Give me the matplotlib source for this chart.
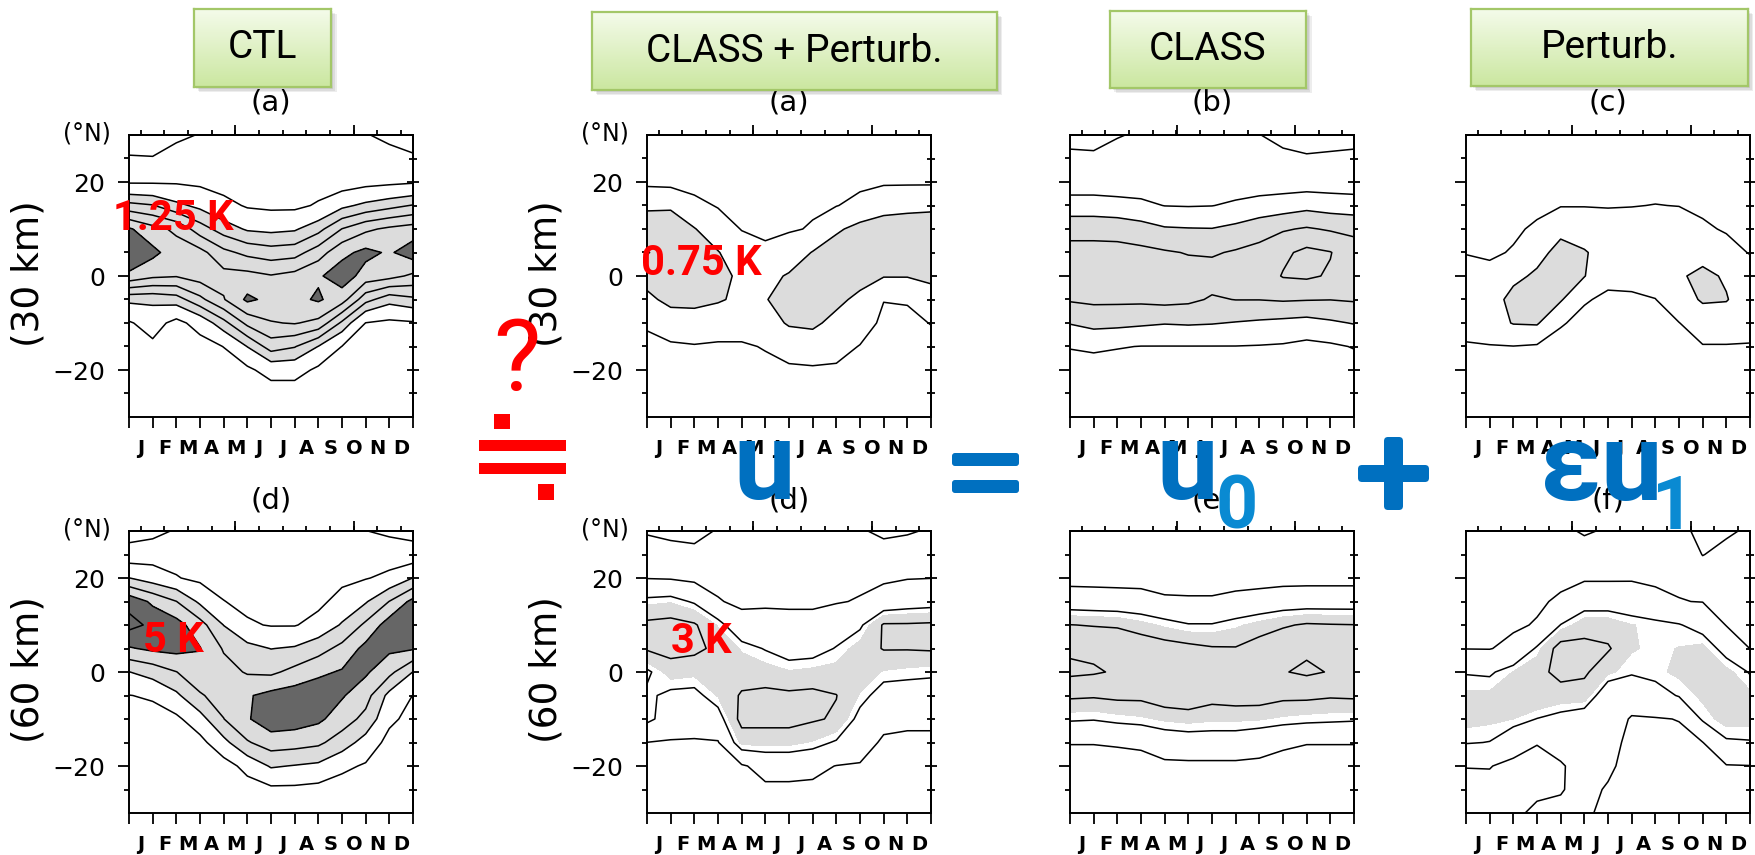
import numpy as np
import matplotlib
matplotlib.use("Agg")
import matplotlib.pyplot as plt
from matplotlib.patches import Rectangle, FancyBboxPatch
from matplotlib.colors import LinearSegmentedColormap

W, H = 1756, 855

# ---------------- data ----------------
months = ['J', 'F', 'M', 'A', 'M', 'J', 'J', 'A', 'S', 'O', 'N', 'D']
month_grid = np.arange(13)                      # month boundaries (Jan 1 ... Dec 31)
lats = np.array([30, 25, 20, 15, 10, 5, 0, -5, -10, -15, -20, -25, -30])

# each inner list: one month-boundary profile, lat 30N -> 30S
ctl_30km = [
    [0.4, 1.1, 1.9, 4.0, 6.1, 6.8, 5.8, 3.2, 1.9, 1.5, 1.4, 1.3, 1.2],
    [0.5, 1.05, 1.9, 3.8, 5.5, 6.2, 5.4, 3.2, 2.4, 1.8, 1.5, 1.4, 1.3],
    [0.8, 1.4, 1.9, 3.2, 5.1, 5.6, 5.3, 3.4, 1.7, 1.4, 1.3, 1.2, 1.2],
    [1.05, 1.6, 1.8, 2.8, 4.1, 5.5, 5.6, 4.3, 2.4, 1.6, 1.4, 1.3, 1.2],
    [1.2, 1.5, 1.6, 2.3, 3.4, 4.7, 5.5, 5.2, 3.5, 2.02, 1.5, 1.3, 1.2],
    [1.2, 1.4, 1.5, 1.9, 2.9, 4.3, 5.5, 6.15, 4.7, 3.02, 1.8, 1.4, 1.3],
    [1.2, 1.4, 1.5, 1.8, 2.8, 4.1, 5.3, 5.8, 5.2, 4.1, 2.4, 1.5, 1.3],
    [1.2, 1.4, 1.5, 1.8, 2.9, 4.2, 5.5, 5.8, 5.3, 3.8, 2.4, 1.5, 1.3],
    [1.1, 1.4, 1.6, 2.1, 3.5, 4.9, 5.9, 6.1, 5.05, 2.98, 1.8, 1.4, 1.2],
    [1.02, 1.3, 1.5, 2.8, 4.52, 5.8, 6.4, 5.6, 3.6, 1.98, 1.5, 1.3, 1.2],
    [1.05, 1.5, 1.7, 3.2, 5.1, 6.2, 5.7, 4.02, 1.98, 1.6, 1.4, 1.3, 1.2],
    [0.8, 1.3, 1.8, 3.5, 5.4, 5.9, 5.5, 3.3, 1.8, 1.5, 1.4, 1.3, 1.2],
    [0.5, 1.15, 1.9, 3.8, 5.6, 6.4, 5.1, 3.6, 1.9, 1.6, 1.4, 1.3, 1.2],
]
ctl_60km = [
    [0.6, 1.4, 3.02, 5.7, 6.3, 4.9, 2.98, 1.98, 1.7, 1.5, 1.4, 1.3, 1.3],
    [0.7, 1.6, 2.5, 4.8, 5.8, 5.2, 3.4, 2.1, 1.7, 1.5, 1.4, 1.3, 1.3],
    [1.1, 1.7, 2.05, 4.02, 5.4, 5.3, 3.98, 2.8, 1.8, 1.5, 1.4, 1.3, 1.3],
    [1.2, 1.6, 1.8, 2.8, 4.4, 5.05, 4.6, 3.9, 2.6, 1.7, 1.5, 1.4, 1.3],
    [1.3, 1.5, 1.7, 2.02, 2.98, 3.9, 4.4, 4.4, 3.98, 2.7, 1.6, 1.4, 1.3],
    [1.3, 1.4, 1.6, 1.8, 2.1, 3.3, 3.9, 4.9, 4.9, 3.9, 2.3, 1.6, 1.4],
    [1.3, 1.4, 1.5, 1.7, 1.95, 2.98, 3.8, 5.3, 5.6, 4.5, 3.1, 1.8, 1.5],
    [1.3, 1.4, 1.5, 1.7, 1.95, 3.1, 4.3, 5.5, 5.5, 4.4, 2.95, 1.8, 1.5],
    [1.3, 1.5, 1.7, 1.8, 2.3, 3.6, 4.8, 5.6, 5.2, 4.2, 2.8, 1.7, 1.5],
    [1.2, 1.6, 1.8, 2.3, 3.1, 4.3, 5.1, 5.1, 4.5, 3.5, 2.2, 1.6, 1.4],
    [1.02, 1.8, 1.95, 2.9, 4.2, 5.3, 5.15, 4.4, 3.7, 2.6, 1.9, 1.5, 1.4],
    [0.8, 1.6, 2.2, 4.02, 5.5, 5.2, 4.3, 2.7, 2.2, 1.7, 1.5, 1.4, 1.3],
    [0.7, 1.4, 3.02, 5.3, 5.6, 5.1, 2.98, 1.98, 1.7, 1.5, 1.4, 1.3, 1.3],
]
class_pert_30km = [
    [0.7, 0.75, 0.8, 1.85, 2.5, 3.05, 2.4, 1.75, 1.1, 0.8, 0.7, 0.7, 0.7],
    [0.7, 0.72, 0.75, 1.85, 2.6, 2.6, 2.5, 2.3, 1.4, 0.9, 0.75, 0.7, 0.7],
    [0.7, 0.72, 0.75, 1.2, 2.05, 2.4, 2.4, 2.3, 1.5, 0.95, 0.75, 0.7, 0.7],
    [0.75, 0.8, 0.85, 0.95, 1.4, 2.05, 2.3, 2.1, 1.4, 0.9, 0.75, 0.7, 0.7],
    [0.75, 0.8, 0.85, 0.9, 0.97, 1.4, 1.8, 1.8, 1.4, 0.9, 0.75, 0.7, 0.7],
    [0.75, 0.8, 0.85, 0.9, 0.95, 1.05, 1.7, 1.95, 1.6, 1.05, 0.8, 0.7, 0.7],
    [0.75, 0.8, 0.85, 0.9, 0.93, 1.4, 2.1, 2.4, 2.1, 1.4, 0.85, 0.75, 0.7],
    [0.75, 0.8, 0.85, 0.92, 1.05, 2.05, 2.5, 2.5, 2.2, 1.45, 0.9, 0.75, 0.7],
    [0.75, 0.8, 0.88, 0.97, 1.85, 2.5, 2.5, 2.25, 1.7, 1.25, 0.9, 0.75, 0.7],
    [0.75, 0.78, 0.82, 1.25, 2.3, 2.6, 2.4, 1.75, 1.35, 0.97, 0.8, 0.75, 0.7],
    [0.75, 0.8, 0.88, 1.7, 2.4, 2.5, 2.05, 1.02, 0.85, 0.8, 0.75, 0.7, 0.7],
    [0.75, 0.8, 0.88, 1.8, 2.4, 2.5, 2.05, 1.05, 0.85, 0.8, 0.75, 0.7, 0.7],
    [0.75, 0.8, 0.88, 1.85, 2.4, 2.5, 2.2, 1.6, 1.02, 0.8, 0.75, 0.7, 0.7],
]
class_pert_60km = [
    [0.45, 0.75, 0.97, 2.2, 3.2, 3.1, 1.85, 2.15, 2.2, 0.99, 0.8, 0.75, 0.7],
    [0.35, 0.72, 0.93, 2.3, 3.3, 3.3, 2.6, 1.8, 1.6, 0.92, 0.8, 0.75, 0.7],
    [0.3, 0.67, 0.8, 1.9, 3.1, 3.2, 2.5, 1.75, 1.5, 0.9, 0.8, 0.75, 0.7],
    [0.55, 0.65, 0.8, 1.05, 2.3, 2.8, 2.8, 2.4, 1.6, 0.95, 0.8, 0.75, 0.7],
    [0.6, 0.7, 0.8, 0.85, 1.3, 2.3, 2.6, 3.1, 3.3, 2.5, 0.9, 0.8, 0.7],
    [0.6, 0.7, 0.75, 0.9, 1.25, 1.95, 2.6, 3.2, 3.3, 2.5, 1.3, 0.85, 0.75],
    [0.6, 0.7, 0.8, 0.9, 1.2, 1.6, 2.4, 3.15, 3.3, 2.5, 1.3, 0.85, 0.75],
    [0.6, 0.7, 0.8, 0.9, 1.2, 1.65, 2.5, 3.2, 3.1, 2.3, 1.2, 0.85, 0.75],
    [0.6, 0.7, 0.8, 0.95, 1.5, 2.05, 2.55, 3.02, 2.9, 1.9, 0.98, 0.85, 0.75],
    [0.55, 0.7, 0.85, 1.05, 1.85, 2.6, 2.7, 2.3, 1.7, 1.3, 0.95, 0.85, 0.75],
    [0.4, 0.7, 0.9, 1.3, 3.1, 3.05, 2.3, 1.6, 1.2, 0.9, 0.8, 0.75, 0.7],
    [0.45, 0.75, 0.97, 1.5, 3.1, 3.05, 2.2, 1.6, 1.1, 0.9, 0.8, 0.75, 0.7],
    [0.55, 0.75, 0.99, 1.6, 3.15, 3.1, 2.1, 1.7, 1.1, 0.9, 0.8, 0.75, 0.7],
]
class_30km = [
    [0.7, 1.2, 1.5, 2.4, 3.7, 4.3, 4.4, 4.1, 3.05, 2.05, 1.6, 1.4, 1.3],
    [0.7, 1.15, 1.5, 2.4, 3.7, 4.3, 4.4, 4.2, 3.3, 2.15, 1.6, 1.4, 1.3],
    [0.95, 1.3, 1.5, 2.3, 3.65, 4.3, 4.4, 4.2, 3.25, 2.05, 1.6, 1.4, 1.3],
    [1.1, 1.35, 1.5, 2.2, 3.4, 4.25, 4.4, 4.2, 3.15, 1.98, 1.6, 1.4, 1.3],
    [1.1, 1.35, 1.5, 1.98, 3.1, 4.1, 4.4, 4.3, 3.05, 1.98, 1.6, 1.4, 1.3],
    [1.1, 1.35, 1.5, 1.95, 3.05, 3.95, 4.4, 4.2, 3.1, 1.98, 1.6, 1.4, 1.3],
    [1.1, 1.35, 1.5, 1.98, 3.03, 3.9, 4.4, 3.9, 3.05, 1.98, 1.6, 1.4, 1.3],
    [1.1, 1.35, 1.5, 2.15, 3.25, 4.1, 4.4, 4.02, 2.95, 1.98, 1.6, 1.4, 1.3],
    [1.02, 1.3, 1.5, 2.35, 3.6, 4.3, 4.45, 4.02, 2.85, 1.95, 1.6, 1.4, 1.3],
    [0.75, 1.2, 1.5, 2.5, 3.9, 4.8, 5.06, 4.1, 2.75, 1.9, 1.6, 1.4, 1.3],
    [0.6, 1.1, 1.5, 2.7, 4.1, 5.25, 5.15, 4.05, 2.65, 1.75, 1.5, 1.4, 1.3],
    [0.65, 1.15, 1.5, 2.55, 3.9, 5.04, 4.9, 4.02, 2.85, 1.85, 1.55, 1.4, 1.3],
    [0.7, 1.2, 1.5, 2.45, 3.8, 4.4, 4.5, 4.1, 3.05, 2.05, 1.6, 1.4, 1.3],
]
class_60km = [
    [0.6, 0.7, 0.75, 1.45, 3.02, 3.85, 4.2, 3.15, 2.1, 1.02, 0.8, 0.75, 0.7],
    [0.6, 0.7, 0.75, 1.4, 2.95, 3.8, 4.1, 3.1, 2.05, 1.02, 0.8, 0.75, 0.7],
    [0.6, 0.7, 0.75, 1.35, 2.9, 3.7, 3.9, 3.2, 2.2, 1.05, 0.8, 0.75, 0.7],
    [0.6, 0.7, 0.75, 1.3, 2.6, 3.6, 3.9, 3.2, 2.3, 1.1, 0.8, 0.75, 0.7],
    [0.6, 0.7, 0.75, 1.1, 2.3, 3.4, 3.8, 3.5, 2.5, 1.4, 0.85, 0.75, 0.7],
    [0.6, 0.7, 0.75, 1.08, 2.05, 3.25, 3.8, 3.6, 2.6, 1.5, 0.85, 0.75, 0.7],
    [0.6, 0.7, 0.75, 1.08, 2.05, 3.08, 3.6, 3.3, 2.5, 1.5, 0.85, 0.75, 0.7],
    [0.6, 0.7, 0.75, 1.2, 2.3, 3.05, 3.7, 3.4, 2.5, 1.5, 0.85, 0.75, 0.7],
    [0.6, 0.7, 0.75, 1.3, 2.6, 3.4, 3.8, 3.4, 2.45, 1.3, 0.85, 0.75, 0.7],
    [0.6, 0.7, 0.75, 1.45, 2.9, 3.65, 3.95, 3.2, 2.3, 1.1, 0.8, 0.75, 0.7],
    [0.6, 0.7, 0.75, 1.5, 3.1, 3.85, 4.15, 3.2, 2.2, 1.02, 0.8, 0.75, 0.7],
    [0.6, 0.7, 0.75, 1.5, 3.05, 3.8, 3.95, 3.1, 2.15, 1.02, 0.8, 0.75, 0.7],
    [0.6, 0.7, 0.75, 1.5, 3.02, 3.8, 3.95, 3.15, 2.1, 1.02, 0.8, 0.75, 0.7],
]
pert_30km = [
    [0.5, 0.55, 0.6, 0.7, 0.85, 0.97, 1.3, 1.5, 1.4, 0.9, 0.75, 0.7, 0.6],
    [0.5, 0.55, 0.6, 0.7, 0.85, 0.9, 1.2, 1.7, 1.6, 0.95, 0.75, 0.7, 0.6],
    [0.5, 0.55, 0.6, 0.75, 0.9, 1.05, 1.85, 2.2, 2.05, 0.98, 0.75, 0.7, 0.6],
    [0.5, 0.55, 0.65, 0.85, 1.1, 1.8, 2.1, 2.3, 2.1, 0.9, 0.75, 0.7, 0.6],
    [0.55, 0.6, 0.7, 0.95, 1.85, 2.2, 2.3, 2.1, 1.05, 0.8, 0.7, 0.65, 0.6],
    [0.55, 0.6, 0.7, 0.97, 1.5, 2.08, 2.04, 1.05, 0.85, 0.75, 0.7, 0.65, 0.6],
    [0.55, 0.6, 0.7, 0.95, 1.4, 1.6, 1.15, 0.9, 0.8, 0.75, 0.7, 0.65, 0.6],
    [0.55, 0.6, 0.7, 0.97, 1.45, 1.6, 1.2, 0.9, 0.8, 0.75, 0.7, 0.65, 0.6],
    [0.55, 0.6, 0.7, 1.02, 1.5, 1.7, 1.45, 0.98, 0.85, 0.75, 0.7, 0.65, 0.6],
    [0.55, 0.6, 0.7, 0.98, 1.5, 1.8, 1.9, 1.6, 0.98, 0.85, 0.7, 0.65, 0.6],
    [0.55, 0.6, 0.7, 0.9, 1.08, 1.7, 2.2, 2.1, 1.5, 0.95, 0.75, 0.65, 0.6],
    [0.55, 0.6, 0.65, 0.8, 0.95, 1.2, 1.9, 2.05, 1.5, 0.95, 0.75, 0.65, 0.6],
    [0.5, 0.55, 0.6, 0.7, 0.85, 0.97, 1.3, 1.5, 1.4, 0.93, 0.75, 0.7, 0.6],
]
pert_60km = [
    [0.7, 0.75, 0.8, 0.85, 0.9, 0.98, 1.95, 2.4, 2.45, 2.05, 1.02, 0.8, 0.7],
    [0.7, 0.75, 0.8, 0.85, 0.9, 0.97, 1.9, 2.4, 2.4, 1.98, 1.03, 0.8, 0.75],
    [0.7, 0.75, 0.8, 0.85, 0.9, 1.2, 2.32, 2.5, 2.3, 1.4, 0.8, 0.85, 0.95],
    [0.7, 0.75, 0.8, 0.9, 1.05, 2.1, 2.7, 2.8, 1.98, 1.02, 0.85, 0.95, 1.05],
    [0.6, 0.75, 0.85, 1.1, 2.02, 3.4, 3.3, 2.6, 1.75, 1.2, 0.95, 0.97, 1.1],
    [0.45, 0.7, 0.9, 1.6, 2.6, 3.3, 3.15, 2.6, 1.5, 1.3, 1.2, 1.15, 1.1],
    [0.55, 0.7, 0.9, 1.6, 2.6, 3.1, 2.4, 1.4, 1.3, 1.2, 1.1, 0.95, 0.85],
    [0.6, 0.7, 0.92, 1.5, 2.32, 2.35, 2.1, 1.3, 0.95, 0.85, 0.8, 0.8, 0.8],
    [0.6, 0.75, 0.85, 1.25, 2.2, 2.2, 2.2, 1.7, 0.95, 0.85, 0.8, 0.8, 0.8],
    [0.6, 0.75, 0.9, 1.02, 2.05, 2.32, 2.4, 2.05, 1.02, 0.85, 0.8, 0.8, 0.8],
    [0.4, 0.49, 0.7, 0.98, 1.7, 2.45, 2.5, 2.4, 2.1, 0.98, 0.85, 0.8, 0.7],
    [0.45, 0.6, 0.75, 0.85, 0.97, 1.7, 2.45, 2.6, 2.5, 1.9, 0.95, 0.8, 0.7],
    [0.55, 0.65, 0.75, 0.85, 0.9, 0.99, 1.95, 2.4, 2.45, 1.95, 0.98, 0.8, 0.7],
]

row_titles = [['(a)', '(a)', '(b)', '(c)'], ['(d)', '(d)', '(e)', '(f)']]
row_ylabels = ['(30 km)', '(60 km)']
box_labels = ['CTL', 'CLASS + Perturb.', 'CLASS', 'Perturb.']

LIGHT, DARK = '#dcdcdc', '#666666'
panels = [
    (0, 0, ctl_30km, [1, 2, 3, 3.75, 4.5, 5.25, 6], [3, 6, 99], [LIGHT, DARK]),
    (0, 1, ctl_60km, [1, 2, 3, 4, 5, 6], [3, 5, 99], [LIGHT, DARK]),
    (1, 0, class_pert_30km, [1, 2, 3], [2, 99], [LIGHT]),
    (1, 1, class_pert_60km, [0.5, 1, 2, 3], [2.35, 99], [LIGHT]),
    (2, 0, class_30km, [1, 2, 3, 4, 5], [3, 99], [LIGHT]),
    (2, 1, class_60km, [1, 2, 3, 4], [2.4, 99], [LIGHT]),
    (3, 0, pert_30km, [1, 2], [2, 99], [LIGHT]),
    (3, 1, pert_60km, [0.5, 1, 2, 3], [2.3, 99], [LIGHT]),
]

# ---------------- layout ----------------
fig = plt.figure(figsize=(W / 100, H / 100), dpi=100)
fig.patch.set_facecolor('white')

col_left = [129, 647, 1070, 1466]
row_top = [135, 531]
AXW, AXH = 284, 282


def fpos(x, y):
    return x / W, 1 - y / H


def ftext(x, y, s, **kw):
    fx, fy = fpos(x, y)
    return fig.text(fx, fy, s, **kw)


def style_axes(ax, ylab):
    ax.set_xlim(0, 12)
    ax.set_ylim(-30, 30)
    for s in ax.spines.values():
        s.set_linewidth(1.4)
    ax.set_xticks(month_grid)
    ax.set_xticklabels([])
    ax.set_xticks(np.arange(12) + 0.5, minor=True)
    ax.set_xticklabels(months, minor=True, fontsize=14, fontweight='bold',
                       family='DejaVu Sans')
    ax.tick_params(axis='x', which='major', direction='out', length=8, width=1.3,
                   bottom=True, top=False)
    ax.tick_params(axis='x', which='minor', direction='out', length=3.6, width=1.3,
                   bottom=False, top=True, labelbottom=True, pad=12)
    ax.set_yticks([-20, 0, 20])
    ax.set_yticks([-25, -15, -10, -5, 5, 10, 15, 25], minor=True)
    if ylab:
        ax.set_yticklabels(['\u221220', '0', '20'], fontsize=18, family='DejaVu Sans')
    else:
        ax.set_yticklabels([])
    ax.tick_params(axis='y', which='major', direction='out', length=8, width=1.3,
                   left=True, right=False, pad=9)
    ax.tick_params(axis='y', which='minor', direction='out', length=3.6, width=1.3,
                   left=True, right=False)
    sec = ax.secondary_yaxis('right')
    sec.set_yticks([-20, 0, 20])
    sec.set_yticks([-25, -15, -10, -5, 5, 10, 15, 25], minor=True)
    sec.set_yticklabels([])
    sec.tick_params(which='major', direction='inout', length=9, width=1.3, labelright=False)
    sec.tick_params(which='minor', direction='inout', length=6, width=1.3)
    sec.spines['right'].set_linewidth(1.4)
    top = ax.secondary_xaxis('top')
    top.set_xticks([4.5, 9.5])
    top.set_xticklabels([])
    top.tick_params(direction='out', length=7, width=1.3, labeltop=False)
    top.spines['top'].set_linewidth(1.4)


for col, row, data, line_lv, fill_lv, fill_c in panels:
    x0, y0 = col_left[col], row_top[row]
    ax = fig.add_axes([x0 / W, 1 - (y0 + AXH) / H, AXW / W, AXH / H])
    Z = np.array(data, dtype=float).T[::-1]
    Y = lats[::-1]
    ax.contourf(month_grid, Y, Z, levels=fill_lv, colors=fill_c)
    ax.contour(month_grid, Y, Z, levels=line_lv, colors='k', linewidths=1.1)
    style_axes(ax, col < 2)
    ftext(x0 + AXW / 2, [103, 500][row], row_titles[row][col], ha='center', va='center',
          fontsize=21, family='DejaVu Sans')
    if col < 2:
        ftext(x0 - 42, y0 - 2, '(\u00b0N)', ha='center', va='center', fontsize=17,
              family='DejaVu Sans')
        ftext(x0 - 100, y0 + AXH / 2 - 2, row_ylabels[row], rotation=90, ha='center',
              va='center', fontsize=27, family='DejaVu Sans')

# ---------------- green header boxes ----------------
boxes = [(194, 9, 331, 87), (592, 12, 997, 90), (1110, 11, 1306, 88), (1471, 9, 1748, 86)]
gcmap = LinearSegmentedColormap.from_list('g', ['#F4FBEA', '#CBE7A0'])
for (bx0, by0, bx1, by1), lab in zip(boxes, box_labels):
    for k in range(4):
        off = 1 + 1.5 * k
        fx, fy = fpos(bx0 + off, by1 + off)
        fig.add_artist(Rectangle((fx, fy), (bx1 - bx0) / W, (by1 - by0) / H,
                                 transform=fig.transFigure, color='k', alpha=0.07,
                                 lw=0, zorder=9))
    bax = fig.add_axes([bx0 / W, 1 - by1 / H, (bx1 - bx0) / W, (by1 - by0) / H], zorder=10)
    bax.imshow(np.linspace(0, 1, 64)[:, None], aspect='auto', cmap=gcmap,
               extent=[0, 1, 0, 1], origin='upper')
    bax.set_xticks([])
    bax.set_yticks([])
    for s in bax.spines.values():
        s.set_color('#A3C768')
        s.set_linewidth(1.6)
    bax.text(0.5, 0.5, lab, ha='center', va='center', fontsize=28, family='Roboto',
             transform=bax.transAxes)

# ---------------- red annotations ----------------
RED = '#FF0000'
for (tx, ty, s) in [(113, 230, '1.25 K'), (641, 275, '0.75 K'),
                    (143, 652, '5 K'), (671, 653, '3 K')]:
    ftext(tx, ty, s, color=RED, fontsize=30, fontweight='bold', family='Roboto',
          ha='left', va='baseline', zorder=20)
ftext(493, 390, '?', color=RED, fontsize=72, family='Roboto', ha='left',
      va='baseline', zorder=20)


def rect_px(x0, y0, x1, y1, color, r=0.0):
    p = FancyBboxPatch((x0 / 100, (H - y1) / 100), (x1 - x0) / 100, (y1 - y0) / 100,
                       boxstyle=f"round,pad=0,rounding_size={r / 100}",
                       transform=fig.dpi_scale_trans, color=color, lw=0, zorder=20)
    fig.add_artist(p)


# approximately-equal sign with dots
rect_px(494, 414, 510, 429, RED)
rect_px(479, 440, 566, 451, RED)
rect_px(479, 463, 566, 474, RED)
rect_px(538, 484, 554, 500, RED)

# ---------------- blue equation ----------------
BLUE, BLUE2 = '#0070C0', '#0A8AD2'
ftext(733, 499, 'u', color=BLUE, fontsize=79, fontweight='bold', family='Roboto',
      ha='left', va='baseline', zorder=20)
rect_px(952, 453, 1019, 466, BLUE, 3)
rect_px(952, 480, 1019, 493, BLUE, 3)
ftext(1156, 499, 'u', color=BLUE, fontsize=79, fontweight='bold', family='Roboto',
      ha='left', va='baseline', zorder=20)
ftext(1216, 528, '0', color=BLUE2, fontsize=53, fontweight='bold', family='Roboto',
      ha='left', va='baseline', zorder=20)
rect_px(1358, 465, 1429, 482, BLUE, 4)
rect_px(1384, 437, 1403, 510, BLUE, 4)
ftext(1540, 500, '\u03b5u', color=BLUE, fontsize=79, fontweight='bold', family='Roboto',
      ha='left', va='baseline', zorder=20)
ftext(1652, 529, '1', color=BLUE2, fontsize=53, fontweight='bold', family='Roboto',
      ha='left', va='baseline', zorder=20)

fig.savefig('out.png', dpi=100, facecolor='white')
